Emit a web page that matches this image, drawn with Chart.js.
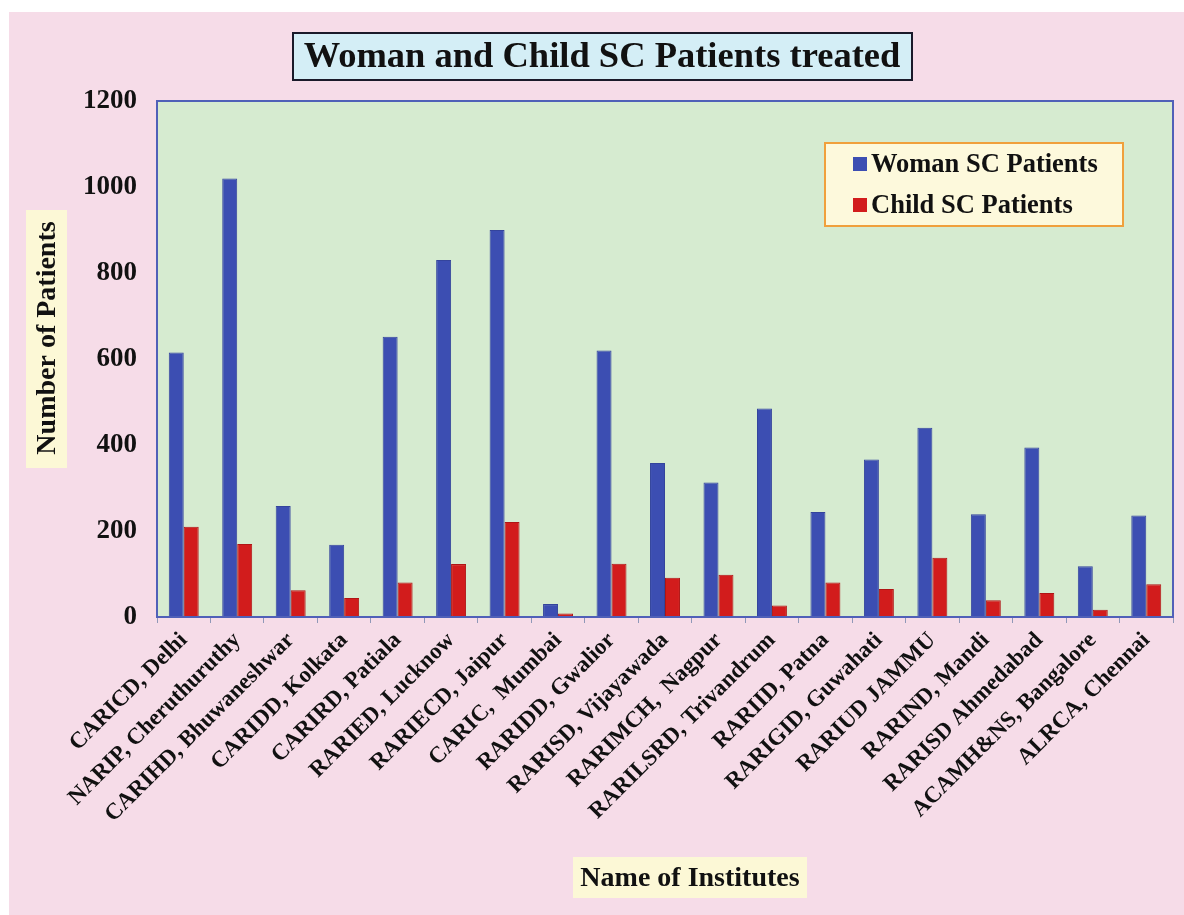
<!DOCTYPE html>
<html>
<head>
<meta charset="utf-8">
<script src="https://cdn.jsdelivr.net/npm/chart.js@4.4.0/dist/chart.umd.min.js"></script>
<style>
  html, body { margin: 0; padding: 0; background: #fff; }
</style>
</head>
<body>
<canvas id="patientChart" width="1184" height="915"></canvas>
<script>
const institutes = ['CARICD, Delhi', 'NARIP, Cheruthuruthy', 'CARIHD, Bhuwaneshwar', 'CARIDD, Kolkata',
  'CARIRD, Patiala', 'RARIED, Lucknow', 'RARIECD, Jaipur', 'CARIC,  Mumbai', 'RARIDD, Gwalior',
  'RARISD, Vijayawada', 'RARIMCH,  Nagpur', 'RARILSRD, Trivandrum', 'RARIID, Patna', 'RARIGID, Guwahati',
  'RARIUD JAMMU', 'RARIND, Mandi', 'RARISD Ahmedabad', 'ACAMH&NS, Bangalore', 'ALRCA, Chennai'];
const womanPatients = [615, 1020, 258, 168, 652, 830, 900, 30, 620, 358, 313, 485, 244, 366, 440, 239, 394, 118, 236];
const childPatients = [210, 170, 62, 44, 80, 123, 221, 8, 124, 91, 98, 27, 80, 65, 138, 39, 56, 17, 76];
const yTicks = [0, 200, 400, 600, 800, 1000, 1200];

const serif = '"Liberation Serif", "Times New Roman", serif';

function box(ctx, x, y, w, h, fill, stroke, lw) {
  ctx.fillStyle = fill;
  ctx.fillRect(x, y, w, h);
  if (stroke) {
    ctx.strokeStyle = stroke;
    ctx.lineWidth = lw;
    ctx.strokeRect(x, y, w, h);
  }
}

const decor = {
  id: 'decor',
  beforeDraw(chart) {
    const { ctx, chartArea: a } = chart;
    ctx.save();
    ctx.fillStyle = '#ffffff';
    ctx.fillRect(0, 0, chart.width, chart.height);
    ctx.fillStyle = '#f6dce8';
    ctx.fillRect(9, 12, chart.width - 9, chart.height - 12);
    ctx.fillStyle = '#d6ebd0';
    ctx.fillRect(a.left, a.top, a.right - a.left, a.bottom - a.top);
    ctx.restore();
  },
  afterDraw(chart) {
    const { ctx, chartArea: a } = chart;
    ctx.save();
    // plot frame
    ctx.strokeStyle = '#5060b8';
    ctx.lineWidth = 2;
    ctx.strokeRect(a.left, a.top, a.right - a.left, a.bottom - a.top);

    // title
    box(ctx, 293, 33, 619, 47, '#d4eef6', '#1a1a2a', 2);
    ctx.fillStyle = '#111';
    ctx.font = 'bold 36.5px ' + serif;
    ctx.textAlign = 'center';
    ctx.textBaseline = 'middle';
    ctx.fillText('Woman and Child SC Patients treated', 602, 58);

    // legend
    box(ctx, 825, 143, 298, 83, '#fdf9dc', '#f0a03c', 2);
    ctx.font = 'bold 26.5px ' + serif;
    ctx.textAlign = 'left';
    chart.data.datasets.forEach((ds, i) => {
      const y = 164 + i * 41;
      ctx.fillStyle = ds.backgroundColor;
      ctx.fillRect(853, y - 7, 14, 14);
      ctx.fillStyle = '#111';
      ctx.fillText(ds.label, 871, y + 1);
    });

    // axis titles
    box(ctx, 26, 210, 41, 258, '#fcf8d6');
    ctx.save();
    ctx.translate(47, 338);
    ctx.rotate(-Math.PI / 2);
    ctx.font = 'bold 28px ' + serif;
    ctx.textAlign = 'center';
    ctx.fillStyle = '#111';
    ctx.fillText('Number of Patients', 0, 1);
    ctx.restore();

    box(ctx, 573, 857, 234, 41, '#fcf8d6');
    ctx.font = 'bold 28px ' + serif;
    ctx.textAlign = 'center';
    ctx.fillStyle = '#111';
    ctx.fillText('Name of Institutes', 690, 879);
    ctx.restore();
  }
};

new Chart(document.getElementById('patientChart'), {
  type: 'bar',
  data: {
    labels: institutes,
    datasets: [
      { label: 'Woman SC Patients', data: womanPatients, backgroundColor: '#3c4eb2', borderColor: '#34449c', borderWidth: 1 },
      { label: 'Child SC Patients', data: childPatients, backgroundColor: '#d21c1c', borderColor: '#b01515', borderWidth: 1 }
    ]
  },
  options: {
    responsive: false,
    animation: false,
    layout: { padding: { left: 0, top: 101, right: 11, bottom: 0 } },
    datasets: { bar: { categoryPercentage: 0.56, barPercentage: 1 } },
    plugins: { legend: { display: false }, title: { display: false }, tooltip: { enabled: false } },
    scales: {
      x: {
        afterFit(scale) { scale.height = 298; },
        grid: { display: true, drawOnChartArea: false, offset: true, tickLength: 6, color: '#9098b8' },
        border: { display: false },
        ticks: {
          autoSkip: false, minRotation: 45, maxRotation: 45, padding: 4,
          color: '#111', font: { family: serif, size: 23, weight: 'bold' }
        }
      },
      y: {
        min: 0, max: 1200,
        afterFit(scale) { scale.width = 157; },
        afterBuildTicks(scale) { scale.ticks = yTicks.map(v => ({ value: v })); },
        grid: { display: false },
        border: { display: false },
        ticks: {
          padding: 12,
          callback: v => String(v),
          color: '#111', font: { family: serif, size: 27, weight: 'bold' }
        }
      }
    }
  },
  plugins: [decor]
});
</script>
</body>
</html>
